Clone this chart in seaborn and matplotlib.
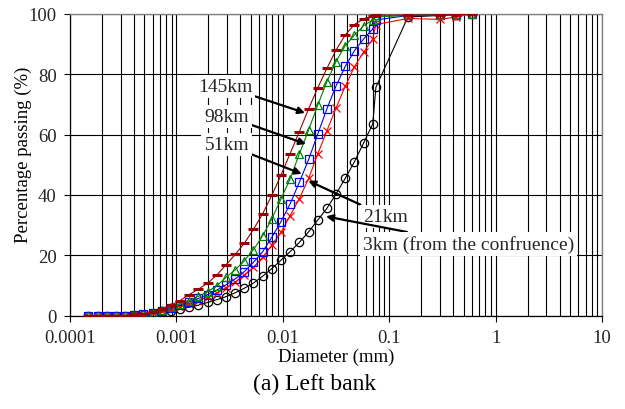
import matplotlib
matplotlib.use("Agg")
import matplotlib.pyplot as plt
import seaborn as sns
from matplotlib.ticker import LogLocator, NullFormatter

sns.set_theme(style="ticks")
plt.rcParams['font.family'] = ['Liberation Serif', 'DejaVu Serif']

# diameters (mm): laser channels then sieve sizes
diameter = [0.000149, 0.000182, 0.000222, 0.000270, 0.000330, 0.000402, 0.000490,
            0.000598, 0.000729, 0.000889, 0.00108, 0.00132, 0.00161, 0.00197,
            0.00240, 0.00292, 0.00357, 0.00435, 0.00530, 0.00647, 0.00789,
            0.00962, 0.0117, 0.0143, 0.0175, 0.0213, 0.0260, 0.0316, 0.0386,
            0.0471, 0.0574, 0.0700, 0.075, 0.15, 0.3, 0.425, 0.6]

# percentage passing per cross section
pass_145km = [0, 0, 0, 0, 0, 0.2, 0.5, 1.1, 2.2, 3.5, 5.0, 7.0, 8.8, 10.8, 13.5,
              16.8, 20.3, 24.0, 28.6, 33.8, 39.9, 46.6, 53.7, 61.0, 68.6, 75.5,
              82.0, 88.0, 93.0, 96.5, 98.4, 99.3, 99.6, 99.6, 99.7, 99.8, 100]
pass_98km = [0, 0, 0, 0, 0, 0.1, 0.4, 1.0, 1.9, 2.9, 3.9, 5.0, 6.4, 8.0, 9.9,
             12.7, 15.2, 18.2, 21.9, 26.5, 32.1, 38.7, 45.3, 53.6, 61.6, 69.8,
             77.6, 84.2, 89.5, 93.0, 96.1, 98.0, 99.0, 99.5, 99.6, 99.8, 100]
pass_51km = [0, 0, 0, 0, 0, 0.1, 0.4, 0.9, 1.6, 2.5, 3.5, 4.6, 5.7, 7.0, 8.5,
             10.2, 12.2, 14.6, 17.7, 21.2, 26.0, 31.2, 37.0, 44.2, 51.8, 60.2,
             68.6, 76.1, 82.6, 87.8, 91.7, 95.0, 98.0, 99.5, 99.7, 99.8, 100]
pass_21km = [0, 0, 0, 0, 0, 0.1, 0.3, 0.8, 1.4, 2.2, 3.0, 4.0, 5.0, 6.2, 7.6,
             9.2, 11.1, 13.5, 16.0, 19.4, 23.4, 27.6, 33.1, 38.8, 45.5, 53.6,
             61.3, 68.8, 76.0, 82.5, 87.3, 91.7, 96.5, 98.5, 98.2, 99.0, 100]
pass_3km = [0, 0, 0, 0, 0, 0, 0.2, 0.7, 1.1, 1.7, 2.2, 2.8, 3.5, 4.4, 5.3,
            6.3, 7.6, 9.1, 10.8, 13.1, 15.6, 18.4, 21.2, 24.3, 27.8, 31.7,
            35.6, 40.3, 45.5, 51.0, 57.2, 63.5, 75.7, 99.0, 99.5, 99.8, 100]

fig = plt.figure(figsize=(6.25, 4.1), dpi=100)
ax = fig.add_axes([0.112, 0.2276, 0.8512, 0.7359])
ax.set_xscale('log')

# name, values, colour, marker, size
series = [
    ("3km", pass_3km, "black", "o", 6.0),
    ("21km", pass_21km, "#ff0000", "x", 5.5),
    ("51km", pass_51km, "#0000ff", "s", 5.5),
    ("98km", pass_98km, "#008000", "^", 6.0),
    ("145km", pass_145km, "#990000", "_", 6.5),
]
for name, vals, col, mk, ms in series:
    sns.lineplot(x=diameter, y=vals, ax=ax, color=col, linewidth=0.8,
                 marker=mk, markersize=ms, markerfacecolor="none",
                 markeredgecolor=col, markeredgewidth=2.2 if mk == "_" else 0.9,
                 sort=False, legend=False, zorder=3)

ax.set_xlim(1e-4, 10)
ax.set_ylim(0, 100)
ax.set_xticks([1e-4, 1e-3, 1e-2, 0.1, 1, 10])
ax.set_xticklabels(['0.0001', '0.001', '0.01', '0.1', '1', '10'])
ax.xaxis.set_minor_locator(LogLocator(base=10, subs=range(2, 10), numticks=20))
ax.xaxis.set_minor_formatter(NullFormatter())
ax.set_yticks(range(0, 101, 20))

ax.set_axisbelow(True)
ax.grid(which='both', axis='x', color='black', linewidth=0.8)
ax.grid(which='major', axis='y', color='black', linewidth=0.8)

ax.tick_params(axis='both', which='major', labelsize=13.5, length=4.5,
               width=0.8, color='black', direction='out', pad=5)
ax.tick_params(axis='x', which='minor', length=0)

for side in ['left', 'bottom']:
    ax.spines[side].set_color('black')
    ax.spines[side].set_linewidth(0.9)
for side in ['top', 'right']:
    ax.spines[side].set_color('#808080')
    ax.spines[side].set_linewidth(1.0)

ax.set_xlabel("Diameter (mm)", fontsize=13.5, labelpad=1, color='black')
ax.set_ylabel("Percentage passing (%)", fontsize=13.5, color='black')
ax.yaxis.set_label_coords(-0.072, 0.536)

box = dict(boxstyle='square,pad=0.15', fc='white', ec='none')
arrow = dict(arrowstyle='-|>', color='black', lw=1.6, mutation_scale=10,
             shrinkA=0, shrinkB=0)

left_labels = ["145km", "98km", "51km"]
left_text = [(0.00287, 76.0), (0.00297, 66.1), (0.00297, 56.7)]
left_head = [(0.01618, 67.2), (0.01652, 56.9), (0.01506, 47.0)]
for lab, txy, hxy in zip(left_labels, left_text, left_head):
    ax.annotate(lab, xy=hxy, xytext=txy, ha='center', va='center',
                fontsize=14, bbox=box, arrowprops=arrow, zorder=5)

right_labels = ["21km", "3km (from the confruence)"]
right_text = [(0.0568, 33.0), (0.0568, 23.8)]
right_head = [(0.01738, 44.7), (0.02547, 32.9)]
for lab, txy, hxy in zip(right_labels, right_text, right_head):
    ax.annotate(lab, xy=hxy, xytext=txy, ha='left', va='center',
                fontsize=14, bbox=box, arrowprops=arrow, zorder=5)

fig.text(0.504, 1 - 384 / 410, "(a) Left bank", ha='center', va='center',
         fontsize=17, color='black')

fig.savefig("out.png", dpi=100)
